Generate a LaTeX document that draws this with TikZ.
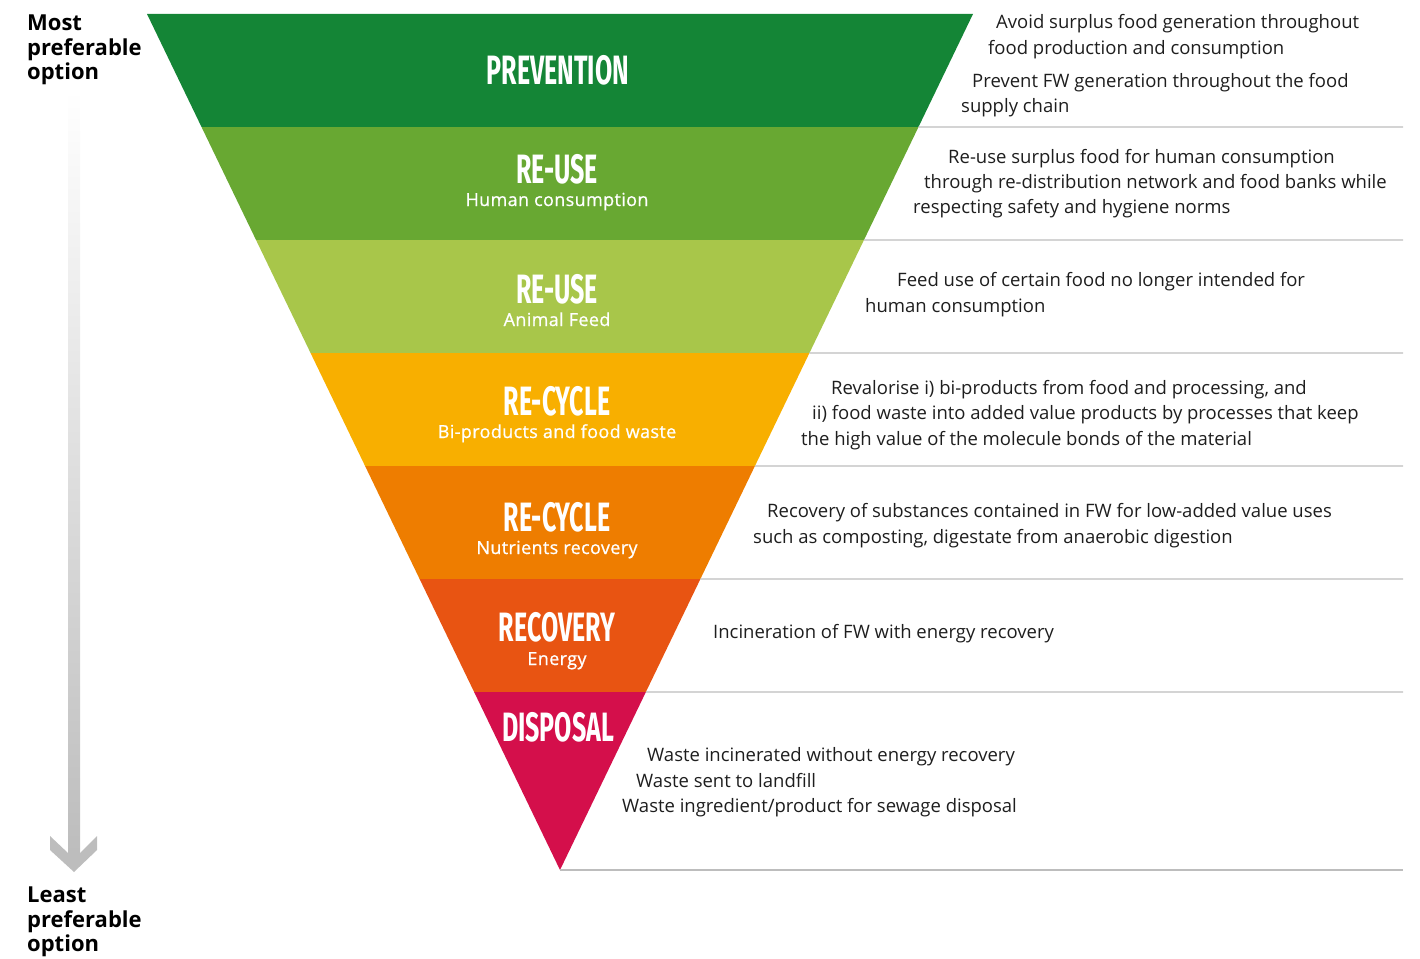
\documentclass[tikz,border=0pt]{standalone}
\usepackage{fontspec}
\setmainfont{Open Sans}
\newfontfamily\headfont[FakeStretch=0.61]{Fira Sans}
\newfontfamily\subfont[FakeBold=0.8,LetterSpace=2]{Open Sans}
\usetikzlibrary{calc}
\definecolor{cPrev}{HTML}{148536}
\definecolor{cHum}{HTML}{68A832}
\definecolor{cAni}{HTML}{A8C64A}
\definecolor{cBi}{HTML}{F8AF00}
\definecolor{cNut}{HTML}{EE7D00}
\definecolor{cRec}{HTML}{E85412}
\definecolor{cDis}{HTML}{D40F4B}
\definecolor{divgray}{HTML}{BDBDBD}
\definecolor{arrgray}{HTML}{BDBDBD}
\definecolor{txtgray}{HTML}{1E1E1E}
\begin{document}
\begin{tikzpicture}[x=1pt,y=-1pt,
  head/.style={text=white,inner sep=0pt,anchor=base,text depth=0pt,font=\headfont\bfseries\fontsize{41}{41}\selectfont},
  sub/.style={text=white,inner sep=0pt,anchor=base,font=\subfont\fontsize{18}{22}\selectfont},
  desc/.style={text=txtgray,inner sep=0pt,anchor=base west,font=\fontsize{18.5}{25.5}\selectfont},
  side/.style={text=black,inner sep=0pt,anchor=north west,align=left,font=\bfseries\fontsize{22}{24.5}\selectfont},
  divider/.style={draw=divgray,line width=1.2pt}]
\useasboundingbox (0,0) rectangle (1420,958);
\coordinate (TL) at (147,14);
\coordinate (TR) at (973,14);
\coordinate (AP) at (560,870);
% bands
\begin{scope}
\clip (TL)--(TR)--(AP)--cycle;
\fill[cPrev] (140,10) rectangle (980,127);
\fill[cHum] (140,127) rectangle (980,240);
\fill[cAni] (140,240) rectangle (980,353);
\fill[cBi] (140,353) rectangle (980,466);
\fill[cNut] (140,466) rectangle (980,579);
\fill[cRec] (140,579) rectangle (980,692);
\fill[cDis] (140,692) rectangle (980,875);
\end{scope}
% dividers
\coordinate (r1) at ($(TR)!0.13201!(AP)$);
\coordinate (r2) at ($(TR)!0.26402!(AP)$);
\coordinate (r3) at ($(TR)!0.39603!(AP)$);
\coordinate (r4) at ($(TR)!0.52804!(AP)$);
\coordinate (r5) at ($(TR)!0.66005!(AP)$);
\coordinate (r6) at ($(TR)!0.79206!(AP)$);
\draw[divider] (r1) -- (1403,127);
\draw[divider] (r2) -- (1403,240);
\draw[divider] (r3) -- (1403,353);
\draw[divider] (r4) -- (1403,466);
\draw[divider] (r5) -- (1403,579);
\draw[divider] (r6) -- (1403,692);
\draw[divider] (AP) -- (1403,870);
% headings
\node[head] (h1) at (558,84) {PREVENTION};
\node[head] (h2) at (557,183) {RE-USE};
\node[sub] (s2) at (557,206) {Human consumption};
\node[head] (h3) at (557,303) {RE-USE};
\node[sub] (s3) at (557,326) {Animal Feed};
\node[head] (h4) at (557,415) {RE-CYCLE};
\node[sub] (s4) at (557,438) {Bi-products and food waste};
\node[head] (h5) at (557,531) {RE-CYCLE};
\node[sub] (s5) at (557,554) {Nutrients recovery};
\node[head] (h6) at (557,641) {RECOVERY};
\node[sub] (s6) at (557,665) {Energy};
\node[head] (h7) at (558,741) {DISPOSAL};
% descriptions
\node[desc] (d1a) at (996,29) {Avoid surplus food generation throughout};
\node[desc] (d1b) at (988,55) {food production and consumption};
\node[desc] (d1c) at (972,87) {Prevent FW generation throughout the food};
\node[desc] (d1d) at (961,112) {supply chain};
\node[desc] (d2a) at (948,163) {Re-use surplus food for human consumption};
\node[desc] (d2b) at (924,188) {through re-distribution network and food banks while};
\node[desc] (d2c) at (913,213) {respecting safety and hygiene norms};
\node[desc] (d3a) at (897,286) {Feed use of certain food no longer intended for};
\node[desc] (d3b) at (865,312) {human consumption};
\node[desc] (d4a) at (831,394) {Revalorise i) bi-products from food and processing, and};
\node[desc] (d4b) at (812,419) {ii) food waste into added value products by processes that keep};
\node[desc] (d4c) at (801,445) {the high value of the molecule bonds of the material};
\node[desc] (d5a) at (767,517) {Recovery of substances contained in FW for low-added value uses};
\node[desc] (d5b) at (753,543) {such as composting, digestate from anaerobic digestion};
\node[desc] (d6a) at (713,638) {Incineration of FW with energy recovery};
\node[desc] (d7a) at (647,761) {Waste incinerated without energy recovery};
\node[desc] (d7b) at (636,787) {Waste sent to landfill};
\node[desc] (d7c) at (622,812) {Waste ingredient/product for sewage disposal};
% side labels
\node[side] (most) at (27,15) {Most\\preferable\\option};
\node[side] (least) at (27,887) {Least\\preferable\\option};
% arrow
\fill[top color=white,bottom color=arrgray,draw=none] (68,90) rectangle (80,853);
\fill[arrgray] (50,836) -- (68,853) -- (80,853) -- (97,836) -- (97,850) -- (74,872) -- (50,850) -- cycle;
\end{tikzpicture}
\end{document}
